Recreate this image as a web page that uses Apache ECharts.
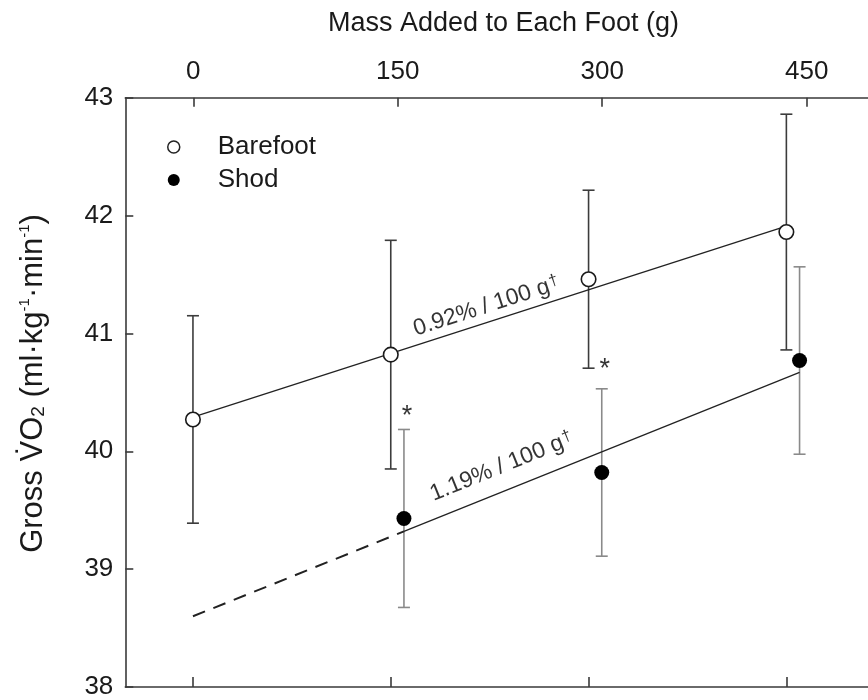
<!DOCTYPE html>
<html><head><meta charset="utf-8">
<script src="https://cdn.jsdelivr.net/npm/echarts@6/dist/echarts.min.js"></script>
<style>html,body{margin:0;padding:0;background:#fff}#c{width:868px;height:700px}</style>
</head><body><div id="c"></div>
<script>
// ---- data ----
const massTicks = [0, 150, 300, 450];
const vo2Ticks = [38, 39, 40, 41, 42, 43];
const barefootMass = [0, 150, 300, 450];
const barefootMean = [40.27, 40.82, 41.46, 41.86];
const barefootSD = [0.88, 0.97, 0.755, 1.0];
const shodMass = [150, 300, 450];
const shodMean = [39.43, 39.82, 40.77];
const shodSD = [0.755, 0.71, 0.795];
const barefootFitMass = [0, 450];
const barefootFitVO2 = [40.29, 41.91];
const shodFitMass = [0, 150, 450];
const shodFitVO2 = [38.60, 39.32, 40.67];
const slopeTexts = ['0.92% / 100 g', '1.19% / 100 g'];
const starMass = [150, 300];
const starVO2 = [40.31, 40.71];

// ---- style ----
const FONT = '"Liberation Sans", Arial, Helvetica, sans-serif';
const TXT = '#1a1a1a';
const AX = '#3a3a3a';
const SHOD_OFF = 10; // horizontal jitter of shod symbols (g)

function errorBars(name, xs, means, sds, color) {
  return {
    type: 'custom', name: name, xAxisIndex: 0, yAxisIndex: 0, z: 2, silent: true,
    encode: { x: 0, y: [1, 2] },
    data: xs.map((x, i) => [x, means[i] - sds[i], means[i] + sds[i]]),
    renderItem: function (params, api) {
      const x = api.value(0);
      const lo = api.coord([x, api.value(1)]);
      const hi = api.coord([x, api.value(2)]);
      const hw = 6;
      const st = { stroke: color, lineWidth: 1.6 };
      return { type: 'group', children: [
        { type: 'line', shape: { x1: lo[0], y1: lo[1], x2: hi[0], y2: hi[1] }, style: st },
        { type: 'line', shape: { x1: lo[0] - hw, y1: lo[1], x2: lo[0] + hw, y2: lo[1] }, style: st },
        { type: 'line', shape: { x1: hi[0] - hw, y1: hi[1], x2: hi[0] + hw, y2: hi[1] }, style: st }
      ]};
    }
  };
}

const chart = echarts.init(document.getElementById('c'), null, { renderer: 'canvas' });

const axisLineStyle = { color: AX, width: 1.6 };
const shodX = shodMass.map(m => m + SHOD_OFF);

const option = {
  animation: false,
  backgroundColor: '#fff',
  grid: { left: 125.3, right: 0, top: 97.7, bottom: 11.7, containLabel: false },
  legend: {
    orient: 'vertical', left: 167, top: 134, padding: 0,
    itemWidth: 12, itemHeight: 12, itemGap: 7,
    selectedMode: false,
    textStyle: { fontSize: 26, color: TXT, fontFamily: FONT, padding: [0, 0, 0, 33] },
    data: [
      { name: 'Barefoot', icon: 'circle', itemStyle: { color: '#fff', borderColor: '#222', borderWidth: 1.5 } },
      { name: 'Shod', icon: 'circle', itemStyle: { color: '#000', borderWidth: 0 } }
    ]
  },
  xAxis: [
    {
      type: 'value', position: 'bottom', min: -51.3, max: 511.9,
      axisLine: { show: true, onZero: false, lineStyle: axisLineStyle },
      axisTick: { show: true, inside: true, length: 10, customValues: massTicks, lineStyle: axisLineStyle },
      axisLabel: { show: false },
      splitLine: { show: false }
    },
    {
      type: 'value', position: 'top', min: -49.9, max: 495.0,
      axisLine: { show: true, onZero: false, lineStyle: axisLineStyle },
      axisTick: { show: true, inside: true, length: 9, customValues: massTicks, lineStyle: axisLineStyle },
      axisLabel: { show: true, customValues: massTicks, fontSize: 26, color: TXT, fontFamily: FONT, margin: 13 },
      splitLine: { show: false }
    }
  ],
  yAxis: {
    type: 'value', min: vo2Ticks[0], max: vo2Ticks[vo2Ticks.length - 1], interval: 1,
    axisLine: { show: true, onZero: false, lineStyle: axisLineStyle },
    axisTick: { show: true, inside: true, length: 8, lineStyle: axisLineStyle },
    axisLabel: { fontSize: 26, color: TXT, fontFamily: FONT, margin: 12 },
    splitLine: { show: false }
  },
  graphic: [
    {
      type: 'text', x: 503.5, y: 24, silent: true,
      style: { text: 'Mass Added to Each Foot (g)', fill: TXT, fontSize: 27, fontFamily: FONT, align: 'center', verticalAlign: 'middle' }
    },
    {
      type: 'text', x: 33, y: 383.5, rotation: Math.PI / 2, silent: true,
      style: {
        text: '{a|Gross V\u0307O}{sub|2}{a| (ml\u00b7kg}{sup|-1}{a|\u00b7min}{sup|-1}{a|)}',
        align: 'center', verticalAlign: 'middle', fill: TXT, fontFamily: FONT,
        rich: {
          a: { fontSize: 31, lineHeight: 31, verticalAlign: 'bottom', fill: TXT, fontFamily: FONT },
          sub: { fontSize: 19, lineHeight: 19, verticalAlign: 'bottom', fill: TXT, fontFamily: FONT },
          sup: { fontSize: 15, lineHeight: 15, verticalAlign: 'top', padding: [0, 0, 23, 0], fill: TXT, fontFamily: FONT }
        }
      }
    }
  ],
  series: [
    errorBars('Barefoot SD', barefootMass, barefootMean, barefootSD, '#3c3c3c'),
    errorBars('Shod SD', shodX, shodMean, shodSD, '#8a8a8a'),
    {
      type: 'line', name: 'Barefoot fit', xAxisIndex: 0, yAxisIndex: 0, z: 3, silent: true,
      symbol: 'none', lineStyle: { color: '#222', width: 1.3 },
      data: barefootFitMass.map((m, i) => [m, barefootFitVO2[i]])
    },
    {
      type: 'line', name: 'Shod fit extrapolated', xAxisIndex: 0, yAxisIndex: 0, z: 3, silent: true,
      symbol: 'none', lineStyle: { color: '#222', width: 2, type: [13, 9] },
      data: [[shodFitMass[0], shodFitVO2[0]], [shodFitMass[1] + SHOD_OFF, shodFitVO2[1]]]
    },
    {
      type: 'line', name: 'Shod fit', xAxisIndex: 0, yAxisIndex: 0, z: 3, silent: true,
      symbol: 'none', lineStyle: { color: '#222', width: 1.3 },
      data: [[shodFitMass[1] + SHOD_OFF, shodFitVO2[1]], [shodFitMass[2] + SHOD_OFF, shodFitVO2[2]]]
    },
    {
      type: 'scatter', name: 'Barefoot', xAxisIndex: 0, yAxisIndex: 0, z: 5,
      symbol: 'circle', symbolSize: 14.5,
      itemStyle: { color: '#fff', borderColor: '#1a1a1a', borderWidth: 1.6, opacity: 1 },
      data: barefootMass.map((m, i) => [m, barefootMean[i]])
    },
    {
      type: 'scatter', name: 'Shod', xAxisIndex: 0, yAxisIndex: 0, z: 5,
      symbol: 'circle', symbolSize: 15,
      itemStyle: { color: '#000', opacity: 1 },
      data: shodX.map((x, i) => [x, shodMean[i]])
    },
    {
      type: 'scatter', name: 'slope labels', xAxisIndex: 0, yAxisIndex: 0, z: 6, silent: true,
      symbol: 'circle', symbolSize: 1, itemStyle: { color: 'rgba(0,0,0,0)' },
      data: [
        { value: [222.5, 41.23], label: { rotate: 17.9 } },
        { value: [234, 39.87], label: { rotate: 22 } }
      ],
      label: {
        show: true, position: 'inside',
        formatter: p => '{a|' + slopeTexts[p.dataIndex] + '}{sup|\u2020}',
        rich: {
          a: { fontSize: 23, lineHeight: 23, verticalAlign: 'bottom', color: '#000', fontFamily: FONT },
          sup: { fontSize: 16, lineHeight: 16, verticalAlign: 'top', padding: [0, 0, 12, 1], color: '#000', fontFamily: FONT }
        }
      }
    },
    {
      type: 'scatter', name: 'stars', xAxisIndex: 0, yAxisIndex: 0, z: 6, silent: true,
      symbol: 'circle', symbolSize: 1, itemStyle: { color: 'rgba(0,0,0,0)' },
      data: starMass.map((m, i) => [m + SHOD_OFF, starVO2[i]]),
      label: { show: true, position: 'inside', offset: [3, 2], formatter: '*', fontSize: 27, color: '#000', fontFamily: FONT }
    }
  ]
};
chart.setOption(option);
</script>
</body></html>
